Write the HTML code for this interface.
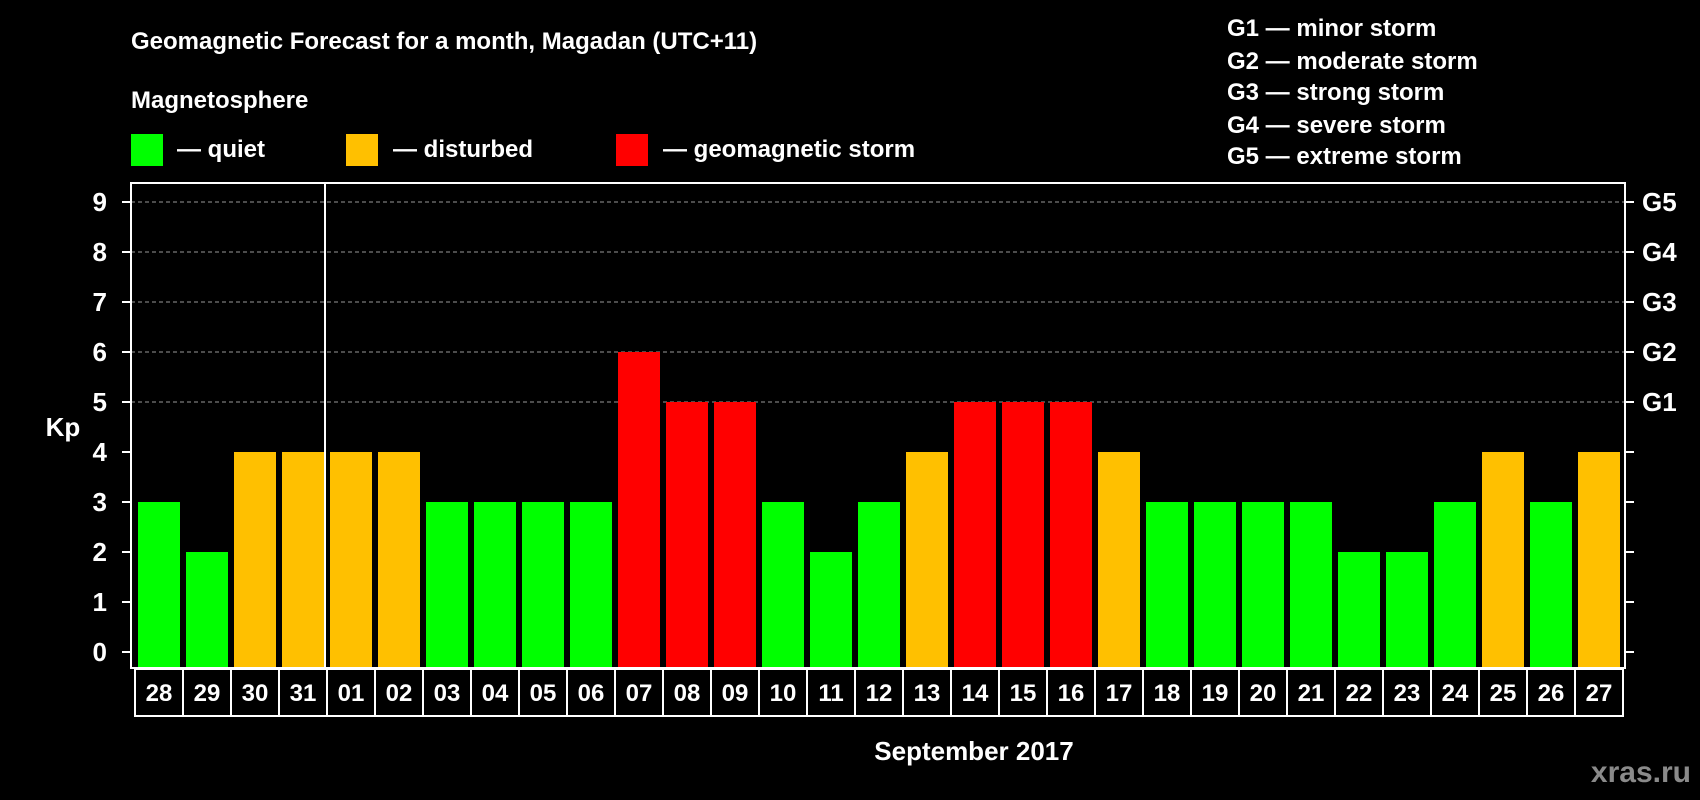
<!DOCTYPE html>
<html><head><meta charset="utf-8"><style>
html,body{margin:0;padding:0;background:#000;}
svg{display:block;font-family:"Liberation Sans",Arial,sans-serif;font-weight:bold;}
</style></head><body>
<svg id="chart" width="1700" height="800" viewBox="0 0 1700 800" xmlns="http://www.w3.org/2000/svg">
<rect width="1700" height="800" fill="#000"/>
<text x="131" y="49" fill="#fff" font-size="24">Geomagnetic Forecast for a month, Magadan (UTC+11)</text>
<text x="131" y="108" fill="#fff" font-size="24">Magnetosphere</text>
<g>
<rect x="131" y="134" width="32" height="32" fill="#00ff00"/>
<text x="177" y="157" fill="#fff" font-size="24">— quiet</text></g>
<g>
<rect x="346" y="134" width="32" height="32" fill="#ffc000"/>
<text x="393" y="157" fill="#fff" font-size="24">— disturbed</text></g>
<g>
<rect x="616" y="134" width="32" height="32" fill="#ff0000"/>
<text x="663" y="157" fill="#fff" font-size="24">— geomagnetic storm</text></g>
<g fill="#fff" font-size="24">
<text x="1227" y="36">G1 — minor storm</text>
<text x="1227" y="69">G2 — moderate storm</text>
<text x="1227" y="100">G3 — strong storm</text>
<text x="1227" y="133">G4 — severe storm</text>
<text x="1227" y="164">G5 — extreme storm</text>
</g>
<text x="63" y="436" fill="#fff" font-size="26" text-anchor="middle">Kp</text>
<text x="974" y="760" fill="#fff" font-size="26" text-anchor="middle">September 2017</text>
<text x="1691" y="782" fill="#8a8a8a" font-size="30" text-anchor="end">xras.ru</text>
<g id="grid"></g><g id="bars"></g><g id="axes"></g><g id="xlabels"></g>
</svg>
<script>
const days = ["28","29","30","31","01","02","03","04","05","06","07","08","09","10","11","12","13","14","15","16","17","18","19","20","21","22","23","24","25","26","27"];
const kpValues = [3,2,4,4,4,4,3,3,3,3,6,5,5,3,2,3,4,5,5,5,4,3,3,3,3,2,2,3,4,3,4];
const yTicks = [0,1,2,3,4,5,6,7,8,9];
const gLabels = [null,null,null,null,null,"G1","G2","G3","G4","G5"];
const monthStartIndex = 4;

const NS="http://www.w3.org/2000/svg";
const L=131,R=1625,T=183,B=668;
function y(v){return 652-v*50;}
function x(i){return 134+i*48;}
function mk(tag,attrs,parent,txt){const e=document.createElementNS(NS,tag);for(const k in attrs)e.setAttribute(k,attrs[k]);if(txt!==undefined)e.textContent=txt;parent.appendChild(e);return e;}
function color(v){return v>=5?"#ff0000":(v>=4?"#ffc000":"#00ff00");}
const grid=document.getElementById('grid'),bars=document.getElementById('bars'),axes=document.getElementById('axes'),xl=document.getElementById('xlabels');
yTicks.forEach((t,i)=>{
  if(t>=5){const g=mk('line',{x1:L,x2:R,y1:y(t),y2:y(t),stroke:'#999','stroke-width':1,'stroke-dasharray':'4,3'},grid);
  
  }
  mk('line',{x1:L-9,x2:L,y1:y(t),y2:y(t),stroke:'#fff','stroke-width':2},axes);
  mk('line',{x1:R,x2:R+9,y1:y(t),y2:y(t),stroke:'#fff','stroke-width':2},axes);
  const lab=mk('text',{x:107,y:y(t)+9,fill:'#fff','font-size':26,'text-anchor':'end'},axes,String(t));
  
  
  if(gLabels[i]){const gl=mk('text',{x:1642,y:y(t)+9,fill:'#fff','font-size':26},axes,gLabels[i]);
  
  }
});
kpValues.forEach((v,i)=>{
  const r=mk('rect',{x:x(i)+4,y:y(v),width:42,height:667-y(v),fill:color(v)},bars);
  
  
});
const frame=mk('rect',{x:L,y:T,width:R-L,height:B-T,fill:'none',stroke:'#fff','stroke-width':2},axes);


const sep=mk('line',{x1:x(monthStartIndex)-1,x2:x(monthStartIndex)-1,y1:T,y2:B,stroke:'#fff','stroke-width':2},axes);


days.forEach((d,i)=>{
  const c=mk('rect',{x:x(i)+1,y:669,width:48,height:47,fill:'none',stroke:'#fff','stroke-width':2},xl);
  
  
  const t=mk('text',{x:x(i)+25,y:701,fill:'#fff','font-size':24,'text-anchor':'middle'},xl,d);
  
  
});
</script>
</body></html>
